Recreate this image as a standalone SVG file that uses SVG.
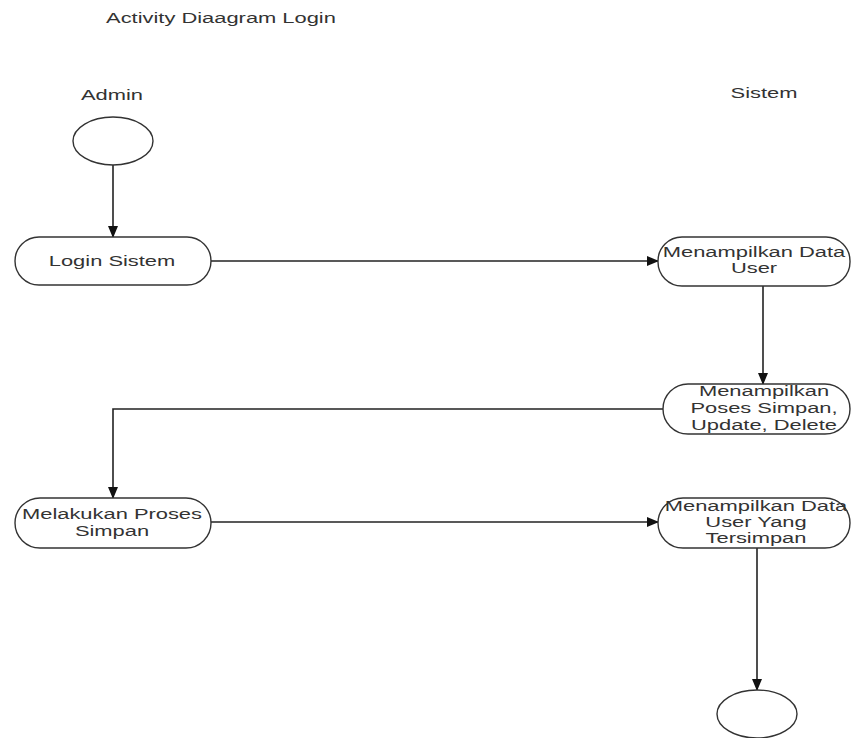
<svg xmlns="http://www.w3.org/2000/svg" width="852" height="738" viewBox="0 0 852 738">
<defs>
<marker id="arr" markerWidth="12" markerHeight="10" refX="11" refY="5" orient="auto" markerUnits="userSpaceOnUse">
<path d="M0,0 L12,5 L0,10 Z" fill="#111"/>
</marker>
</defs>
<style>
.t{font-family:"Liberation Sans",Arial,sans-serif;font-size:15px;fill:#333;text-anchor:middle}
.n{fill:#fff;stroke:#333;stroke-width:1.4}
.c{fill:none;stroke:#222;stroke-width:1.6}
</style>
<rect width="852" height="738" fill="#fff"/>
<text class="t" transform="translate(221,23) scale(1.46,1)">Activity Diaagram Login</text>
<text class="t" transform="translate(112,100) scale(1.46,1)">Admin</text>
<text class="t" transform="translate(764,98) scale(1.46,1)">Sistem</text>
<g id="connectors">
<line class="c" x1="113" y1="165" x2="113" y2="237" marker-end="url(#arr)"/>
<line class="c" x1="211" y1="261" x2="658" y2="261" marker-end="url(#arr)"/>
<line class="c" x1="763" y1="286" x2="763" y2="384" marker-end="url(#arr)"/>
<polyline class="c" points="663,409 113,409 113,498" marker-end="url(#arr)"/>
<line class="c" x1="211" y1="522" x2="658" y2="522" marker-end="url(#arr)"/>
<line class="c" x1="757" y1="548" x2="757" y2="690" marker-end="url(#arr)"/>
</g>
<g id="start"><ellipse class="n" cx="113" cy="141" rx="40" ry="24"/></g>
<g id="login">
<rect class="n" x="15" y="237" width="196" height="48" rx="24"/>
<text class="t" transform="translate(112,266) scale(1.46,1)">Login Sistem</text>
</g>
<g id="tampil-data">
<rect class="n" x="658" y="237" width="192" height="49" rx="24"/>
<text class="t" transform="translate(754,257) scale(1.46,1)">Menampilkan Data</text>
<text class="t" transform="translate(754,273) scale(1.46,1)">User</text>
</g>
<g id="tampil-proses">
<rect class="n" x="663" y="384" width="187" height="50" rx="25"/>
<text class="t" transform="translate(764,396) scale(1.46,1)">Menampilkan</text>
<text class="t" transform="translate(764,413) scale(1.46,1)">Poses Simpan,</text>
<text class="t" transform="translate(764,430) scale(1.46,1)">Update, Delete</text>
</g>
<g id="proses-simpan">
<rect class="n" x="15" y="498" width="196" height="50" rx="25"/>
<text class="t" transform="translate(112,519) scale(1.46,1)">Melakukan Proses</text>
<text class="t" transform="translate(112,536) scale(1.46,1)">Simpan</text>
</g>
<g id="tampil-tersimpan">
<rect class="n" x="658" y="498" width="192" height="50" rx="25"/>
<text class="t" transform="translate(756,511) scale(1.46,1)">Menampilkan Data</text>
<text class="t" transform="translate(756,527) scale(1.46,1)">User Yang</text>
<text class="t" transform="translate(756,543) scale(1.46,1)">Tersimpan</text>
</g>
<g id="end"><ellipse class="n" cx="757" cy="714" rx="40" ry="24"/></g>
</svg>
